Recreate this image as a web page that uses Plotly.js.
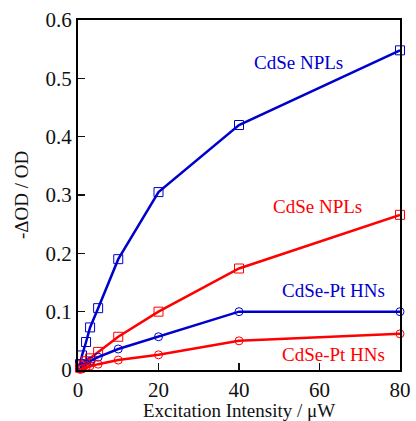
<!DOCTYPE html>
<html><head><meta charset="utf-8">
<script src="https://cdn.plot.ly/plotly-3.0.1.min.js"></script>
<style>html,body{margin:0;padding:0;background:#fff}#c{width:416px;height:421px}</style>
</head><body><div id="c"></div>
<script>
const intensity = [0.5, 1, 2, 3, 5, 10, 20, 40, 80];
const nplBlue   = [0.01, 0.025, 0.048, 0.073, 0.106, 0.19, 0.305, 0.42, 0.548];
const nplRed    = [0.004, 0.008, 0.015, 0.02, 0.031, 0.057, 0.1, 0.174, 0.266];
const hnBlue    = [0.003, 0.005, 0.01, 0.015, 0.022, 0.036, 0.057, 0.1, 0.1];
const hnRed     = [0.001, 0.002, 0.004, 0.007, 0.01, 0.017, 0.026, 0.05, 0.062];
const labels = ["CdSe NPLs", "CdSe NPLs", "CdSe-Pt HNs", "CdSe-Pt HNs"];
const yTicks = [0, 0.1, 0.2, 0.3, 0.4, 0.5, 0.6];
const yTickText = ["0", "0.1", "0.2", "0.3", "0.4", "0.5", "0.6"];
const xTicks = [0, 20, 40, 60, 80];

const BLUE = "#0000cc", RED = "#ff0000";
function tr(y, color, sym, size){
  return {x: intensity, y: y, mode: "lines+markers", cliponaxis: false,
    line: {color: color, width: 2.5},
    marker: {symbol: sym, size: size, color: color, line: {color: color, width: 1}}};
}
const data = [
  tr(nplBlue, BLUE, "square-open", 9),
  tr(nplRed, RED, "square-open", 9),
  tr(hnBlue, BLUE, "circle-open", 8),
  tr(hnRed, RED, "circle-open", 8)
];
const FAM = "Liberation Serif";
function ann(x, y, txt, col){
  return {xref: "x", yref: "y", x: x, y: y, showarrow: false,
    text: '<span style="color:' + col + '">' + txt + '</span>',
    font: {family: FAM, size: 19}};
}
const layout = {
  width: 416, height: 421, showlegend: false,
  margin: {l: 78, r: 16, t: 20, b: 51},
  paper_bgcolor: "#fff", plot_bgcolor: "#fff",
  xaxis: {range: [0, 80], tickvals: xTicks, ticks: "inside", ticklen: 7, tickwidth: 1.5, color: "#111",
    showline: true, linewidth: 2, linecolor: "#000", mirror: true, showgrid: false, zeroline: false,
    tickfont: {family: FAM, size: 21},
    title: {text: "Excitation Intensity / μW", font: {family: FAM, size: 19}, standoff: 3}},
  yaxis: {range: [0, 0.6], tickvals: yTicks, ticktext: yTickText, color: "#111",
    ticks: "inside", ticklen: 7, tickwidth: 1.5,
    showline: true, linewidth: 2, linecolor: "#000", mirror: true, showgrid: false, zeroline: false,
    tickfont: {family: FAM, size: 21},
    title: {text: "-ΔOD / OD", font: {family: FAM, size: 19}, standoff: 12}},
  annotations: [
    ann(54.7, 0.528, labels[0], BLUE),
    ann(59.6, 0.28, labels[1], RED),
    ann(63.4, 0.137, labels[2], BLUE),
    ann(63.4, 0.026, labels[3], RED)
  ]
};
Plotly.newPlot("c", data, layout, {staticPlot: true});
</script></body></html>
